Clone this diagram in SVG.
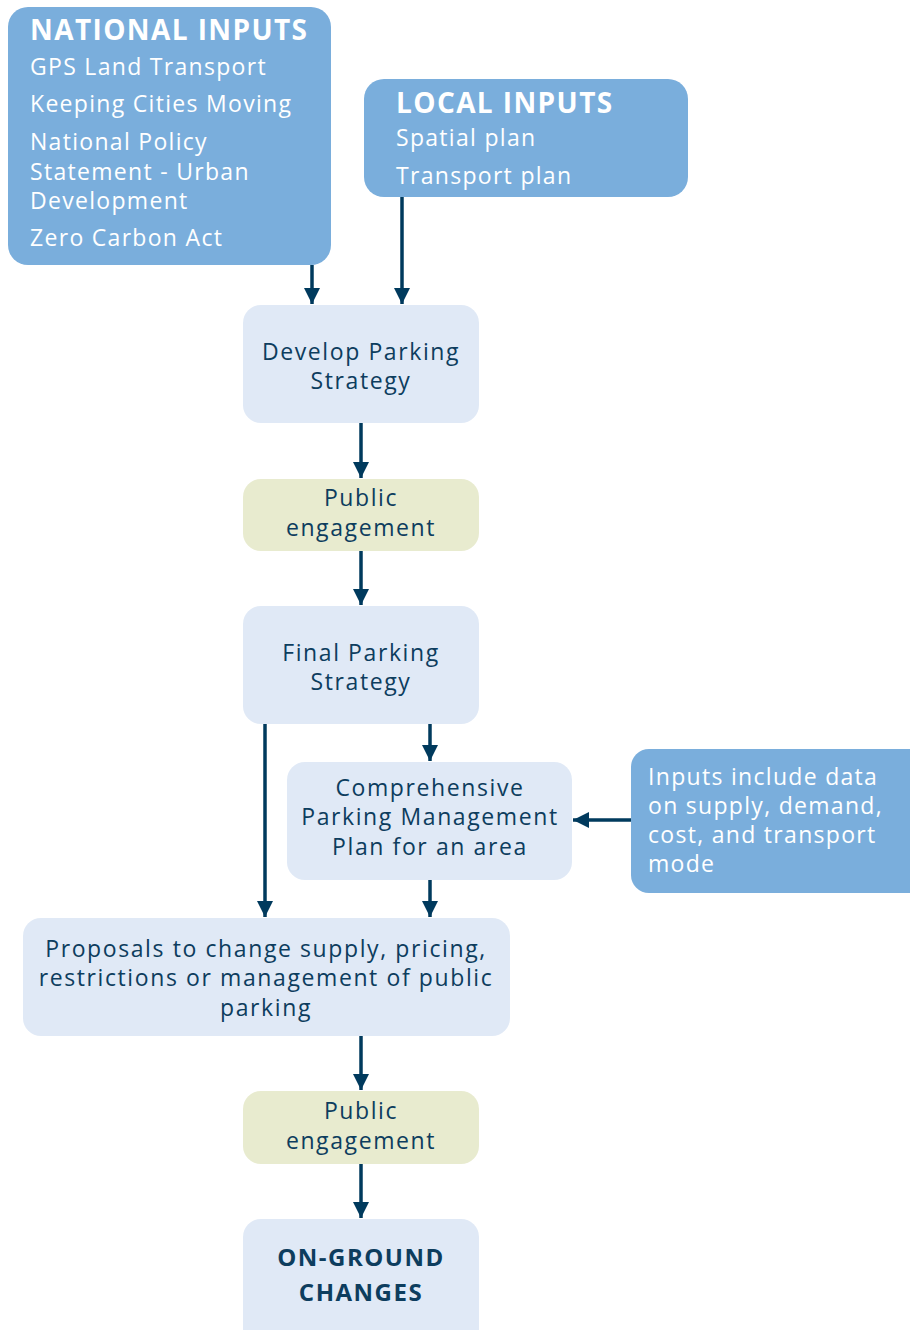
<svg xmlns="http://www.w3.org/2000/svg" width="910" height="1330" viewBox="0 0 910 1330">
<style>
.dark{fill:#7aaedc}
.light{fill:#e0e9f6}
.green{fill:#e8ebcf}
.wt{font-family:"Open Sans","Liberation Sans",sans-serif;font-size:23px;fill:#ffffff;letter-spacing:1.3px}
.wh{font-family:"Open Sans","Liberation Sans",sans-serif;font-size:28px;font-weight:bold;fill:#ffffff;letter-spacing:1.4px}
.bt{font-family:"Open Sans","Liberation Sans",sans-serif;font-size:23px;fill:#0d3d5e;text-anchor:middle;letter-spacing:1.6px}
.bb{font-family:"Open Sans","Liberation Sans",sans-serif;font-size:24px;font-weight:bold;fill:#0d3d5e;text-anchor:middle;letter-spacing:1.5px}
.ln{stroke:#003a5d;stroke-width:3.5;fill:none;marker-end:url(#ah)}
</style>
<defs>
<marker id="ah" viewBox="0 0 10 10" refX="10" refY="5" markerWidth="4.8" markerHeight="4.6" markerUnits="strokeWidth" orient="auto">
<path d="M0,0 L10,5 L0,10 z" fill="#003a5d"/>
</marker>
</defs>
<g id="connectors">
<line class="ln" x1="312" y1="265" x2="312" y2="304"/>
<line class="ln" x1="402" y1="197" x2="402" y2="304"/>
<line class="ln" x1="361" y1="423" x2="361" y2="478"/>
<line class="ln" x1="361" y1="551" x2="361" y2="605"/>
<line class="ln" x1="430" y1="724" x2="430" y2="761"/>
<line class="ln" x1="265" y1="724" x2="265" y2="917"/>
<line class="ln" x1="430" y1="880" x2="430" y2="917"/>
<line class="ln" x1="631" y1="820" x2="573" y2="820"/>
<line class="ln" x1="361" y1="1036" x2="361" y2="1090"/>
<line class="ln" x1="361" y1="1164" x2="361" y2="1218"/>
</g>
<g id="national">
<rect class="dark" x="8" y="7" width="323" height="258" rx="20"/>
<text class="wh" x="30" y="40">NATIONAL INPUTS</text>
<text class="wt" x="30" y="75">GPS Land Transport</text>
<text class="wt" x="30" y="112">Keeping Cities Moving</text>
<text class="wt" x="30" y="150">National Policy</text>
<text class="wt" x="30" y="180">Statement - Urban</text>
<text class="wt" x="30" y="209">Development</text>
<text class="wt" x="30" y="246">Zero Carbon Act</text>
</g>
<g id="local">
<rect class="dark" x="364" y="79" width="324" height="118" rx="20"/>
<text class="wh" x="396" y="113">LOCAL INPUTS</text>
<text class="wt" x="396" y="146">Spatial plan</text>
<text class="wt" x="396" y="184">Transport plan</text>
</g>
<g id="develop">
<rect class="light" x="243" y="305" width="236" height="118" rx="18"/>
<text class="bt" x="361" y="360">Develop Parking</text>
<text class="bt" x="361" y="389">Strategy</text>
</g>
<g id="public1">
<rect class="green" x="243" y="479" width="236" height="72" rx="18"/>
<text class="bt" x="361" y="506">Public</text>
<text class="bt" x="361" y="536">engagement</text>
</g>
<g id="final">
<rect class="light" x="243" y="606" width="236" height="118" rx="18"/>
<text class="bt" x="361" y="661">Final Parking</text>
<text class="bt" x="361" y="690">Strategy</text>
</g>
<g id="comprehensive">
<rect class="light" x="287" y="762" width="285" height="118" rx="18"/>
<text class="bt" x="430" y="796">Comprehensive</text>
<text class="bt" x="430" y="825">Parking Management</text>
<text class="bt" x="430" y="855">Plan for an area</text>
</g>
<g id="inputs">
<rect class="dark" x="631" y="749" width="300" height="144" rx="18"/>
<text class="wt" x="648" y="785">Inputs include data</text>
<text class="wt" x="648" y="814">on supply, demand,</text>
<text class="wt" x="648" y="843">cost, and transport</text>
<text class="wt" x="648" y="872">mode</text>
</g>
<g id="proposals">
<rect class="light" x="23" y="918" width="487" height="118" rx="18"/>
<text class="bt" x="266" y="957">Proposals to change supply, pricing,</text>
<text class="bt" x="266" y="986">restrictions or management of public</text>
<text class="bt" x="266" y="1016">parking</text>
</g>
<g id="public2">
<rect class="green" x="243" y="1091" width="236" height="73" rx="18"/>
<text class="bt" x="361" y="1119">Public</text>
<text class="bt" x="361" y="1149">engagement</text>
</g>
<g id="onground">
<rect class="light" x="243" y="1219" width="236" height="130" rx="18"/>
<text class="bb" x="361" y="1266">ON-GROUND</text>
<text class="bb" x="361" y="1301">CHANGES</text>
</g>
</svg>
